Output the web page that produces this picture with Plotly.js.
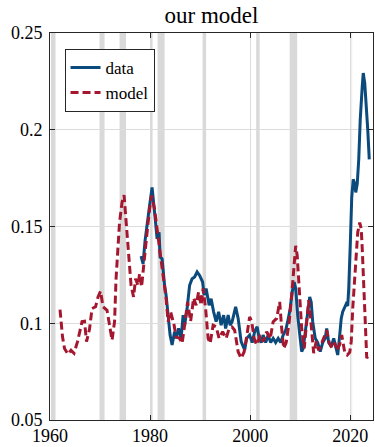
<!DOCTYPE html>
<html>
<head>
<meta charset="utf-8">
<script src="https://cdn.plot.ly/plotly-3.0.1.min.js"></script>
<style>html,body{margin:0;padding:0;background:#fff;}#chart{width:375px;height:447px;}</style>
</head>
<body>
<div id="chart"></div>
<script>
const modelYears = [1962.0,1962.5,1962.9,1963.6,1964.2,1964.8,1965.5,1966.0,1966.4,1966.9,1967.3,1967.9,1968.4,1969.1,1969.6,1970.1,1970.6,1971.4,1971.9,1972.4,1972.9,1973.2,1973.9,1974.4,1974.8,1975.2,1975.7,1976.2,1976.7,1977.1,1977.6,1977.9,1978.3,1978.8,1979.2,1979.9,1980.3,1980.9,1981.4,1981.9,1982.6,1983.2,1983.6,1984.1,1984.8,1985.2,1985.9,1986.4,1987.0,1987.5,1988.1,1988.7,1989.2,1989.7,1990.2,1990.6,1991.1,1991.6,1992.0,1992.6,1993.2,1993.8,1994.5,1995.2,1995.8,1996.4,1996.9,1997.6,1998.2,1998.8,1999.3,1999.9,2000.3,2000.8,2001.3,2002.0,2002.6,2003.3,2004.0,2004.6,2005.3,2005.9,2006.3,2006.7,2007.2,2007.8,2008.3,2008.8,2009.1,2009.4,2009.8,2010.3,2010.8,2011.3,2011.7,2012.2,2012.7,2013.2,2013.7,2014.2,2014.9,2015.3,2015.8,2016.4,2016.9,2017.3,2017.9,2018.3,2018.9,2019.4,2019.9,2020.2,2020.5,2021.0,2021.5,2021.9,2022.2,2022.4,2022.8,2023.1,2023.3,2023.6];
const modelValues = [0.107,0.093,0.087,0.084,0.086,0.0845,0.0905,0.097,0.1008,0.101,0.0905,0.097,0.1076,0.1085,0.1136,0.1165,0.1085,0.1067,0.099,0.0913,0.1008,0.123,0.1522,0.1625,0.1662,0.1539,0.135,0.1196,0.1136,0.123,0.1196,0.1256,0.1188,0.1299,0.142,0.159,0.166,0.159,0.150,0.1385,0.1247,0.1128,0.1008,0.106,0.099,0.093,0.0922,0.0896,0.1008,0.111,0.101,0.113,0.1093,0.1162,0.1093,0.118,0.1076,0.0922,0.0896,0.099,0.0982,0.0922,0.0956,0.0922,0.0973,0.098,0.0964,0.0853,0.0819,0.0853,0.093,0.1033,0.101,0.0922,0.0888,0.0939,0.0905,0.0956,0.092,0.1008,0.1025,0.111,0.0973,0.087,0.090,0.1008,0.1145,0.1282,0.140,0.135,0.118,0.0973,0.087,0.1008,0.1119,0.099,0.0845,0.0905,0.086,0.089,0.0939,0.0964,0.090,0.087,0.090,0.086,0.089,0.0939,0.085,0.0836,0.085,0.0905,0.1076,0.1299,0.147,0.152,0.1487,0.1385,0.1127,0.0922,0.0819,0.0835];

const dataYears = [1978.2,1978.6,1979.0,1979.5,1979.9,1980.4,1980.7,1981.1,1981.4,1981.8,1982.0,1982.4,1982.9,1983.2,1983.6,1984.0,1984.4,1984.9,1985.2,1985.7,1986.2,1986.6,1986.9,1987.4,1987.9,1988.4,1988.9,1989.4,1989.9,1990.5,1990.8,1991.2,1991.8,1992.2,1992.7,1993.2,1993.7,1994.2,1994.7,1995.1,1995.6,1996.0,1996.4,1997.1,1997.6,1998.2,1998.9,1999.3,1999.9,2000.4,2000.9,2001.4,2001.8,2002.2,2002.6,2003.1,2003.6,2004.1,2004.6,2005.1,2005.6,2006.1,2006.6,2007.1,2007.5,2008.0,2008.4,2008.8,2009.1,2009.5,2010.0,2010.3,2010.6,2011.0,2011.5,2011.9,2012.2,2012.5,2013.0,2013.5,2014.0,2014.5,2015.0,2015.3,2015.7,2016.2,2016.7,2017.1,2017.5,2017.9,2018.2,2018.5,2018.9,2019.2,2019.5,2019.7,2020.0,2020.3,2020.6,2020.9,2021.1,2021.4,2021.7,2022.0,2022.4,2022.6,2022.9,2023.2,2023.5,2023.8];
const dataValues = [0.1347,0.1307,0.1427,0.1539,0.1607,0.1702,0.1607,0.152,0.1436,0.147,0.1342,0.1333,0.1196,0.1145,0.1042,0.0939,0.0888,0.0956,0.0922,0.0973,0.0922,0.1042,0.099,0.1076,0.1196,0.123,0.1239,0.1265,0.1247,0.1213,0.1145,0.118,0.1093,0.1127,0.1059,0.1008,0.1059,0.099,0.1042,0.0973,0.1042,0.099,0.1008,0.1085,0.1025,0.0905,0.0862,0.0922,0.0939,0.090,0.0956,0.0982,0.0922,0.090,0.0939,0.090,0.0939,0.090,0.0922,0.090,0.0922,0.090,0.0939,0.0964,0.1008,0.1076,0.1162,0.1213,0.118,0.1042,0.0922,0.0853,0.087,0.0956,0.1076,0.1136,0.111,0.1008,0.0922,0.090,0.0853,0.090,0.0922,0.0973,0.090,0.088,0.0922,0.087,0.0836,0.0939,0.1025,0.106,0.108,0.110,0.109,0.118,0.140,0.165,0.1744,0.172,0.1676,0.172,0.1847,0.2053,0.2224,0.2293,0.2241,0.2139,0.2001,0.1847];

const recessionStart = [1960.2,1969.9,1973.9,1980.0,1981.5,1990.5,2001.2,2007.9,2020.2];
const recessionEnd   = [1961.1,1970.9,1975.2,1980.5,1982.9,1991.2,2001.9,2009.4,2020.4];

const yTickVals = [0.05,0.1,0.15,0.2,0.25];
const yTickText = ['0.05','0.1','0.15','0.2','0.25'];
const xTickVals = [1960,1980,2000,2020];
const xTickText = ['1960','1980','2000','2020'];

const FONT = 'Liberation Serif';
const BLUE = '#0b4a7c';
const RED = '#a5172f';

const shapes = recessionStart.map((s, i) => ({
  type: 'rect', xref: 'x', yref: 'paper', x0: s, x1: recessionEnd[i], y0: 0, y1: 1,
  fillcolor: s > 2015 ? '#ececec' : '#d9d9d9', line: {width: 0}, layer: 'below'
}));

const traces = [
  {x: dataYears, y: dataValues, type: 'scatter', mode: 'lines', name: 'data',
   line: {color: BLUE, width: 3}},
  {x: modelYears, y: modelValues, type: 'scatter', mode: 'lines', name: 'model',
   line: {color: RED, width: 3, dash: '8px,4px'}}
];

const axisCommon = {
  showline: true, linecolor: '#262626', linewidth: 1, mirror: 'ticks',
  ticks: 'inside', ticklen: 5, tickwidth: 1, tickcolor: '#262626',
  showgrid: true, gridcolor: '#dcdcdc', gridwidth: 1, zeroline: false,
  tickfont: {family: FONT, size: 18, color: '#000'}
};

const layout = {
  width: 375, height: 447,
  margin: {l: 50, r: 2, t: 33, b: 27, pad: 0},
  paper_bgcolor: '#fff', plot_bgcolor: '#fff',
  font: {family: FONT, color: '#000'},
  title: {text: 'our model', font: {family: FONT, size: 23, color: '#000'},
          x: 0.5, xref: 'paper', xanchor: 'center', y: 0.966, yref: 'container', yanchor: 'middle'},
  xaxis: Object.assign({}, axisCommon, {range: [1960, 2024.55], tickmode: 'array',
          tickvals: xTickVals, ticktext: xTickText, ticklabelstandoff: -1}),
  yaxis: Object.assign({}, axisCommon, {range: [0.05, 0.25], tickmode: 'array',
          tickvals: yTickVals, ticktext: yTickText, ticklabelstandoff: 3}),
  showlegend: true,
  legend: {x: 0.045, y: 0.959, xanchor: 'left', yanchor: 'top', xref: 'paper', yref: 'paper',
           bgcolor: '#fff', bordercolor: '#262626', borderwidth: 1,
           font: {family: FONT, size: 17, color: '#000'}, tracegroupgap: 0, itemwidth: 30},
  shapes: shapes
};

Plotly.newPlot('chart', traces, layout, {staticPlot: true, displayModeBar: false});
</script>
</body>
</html>
